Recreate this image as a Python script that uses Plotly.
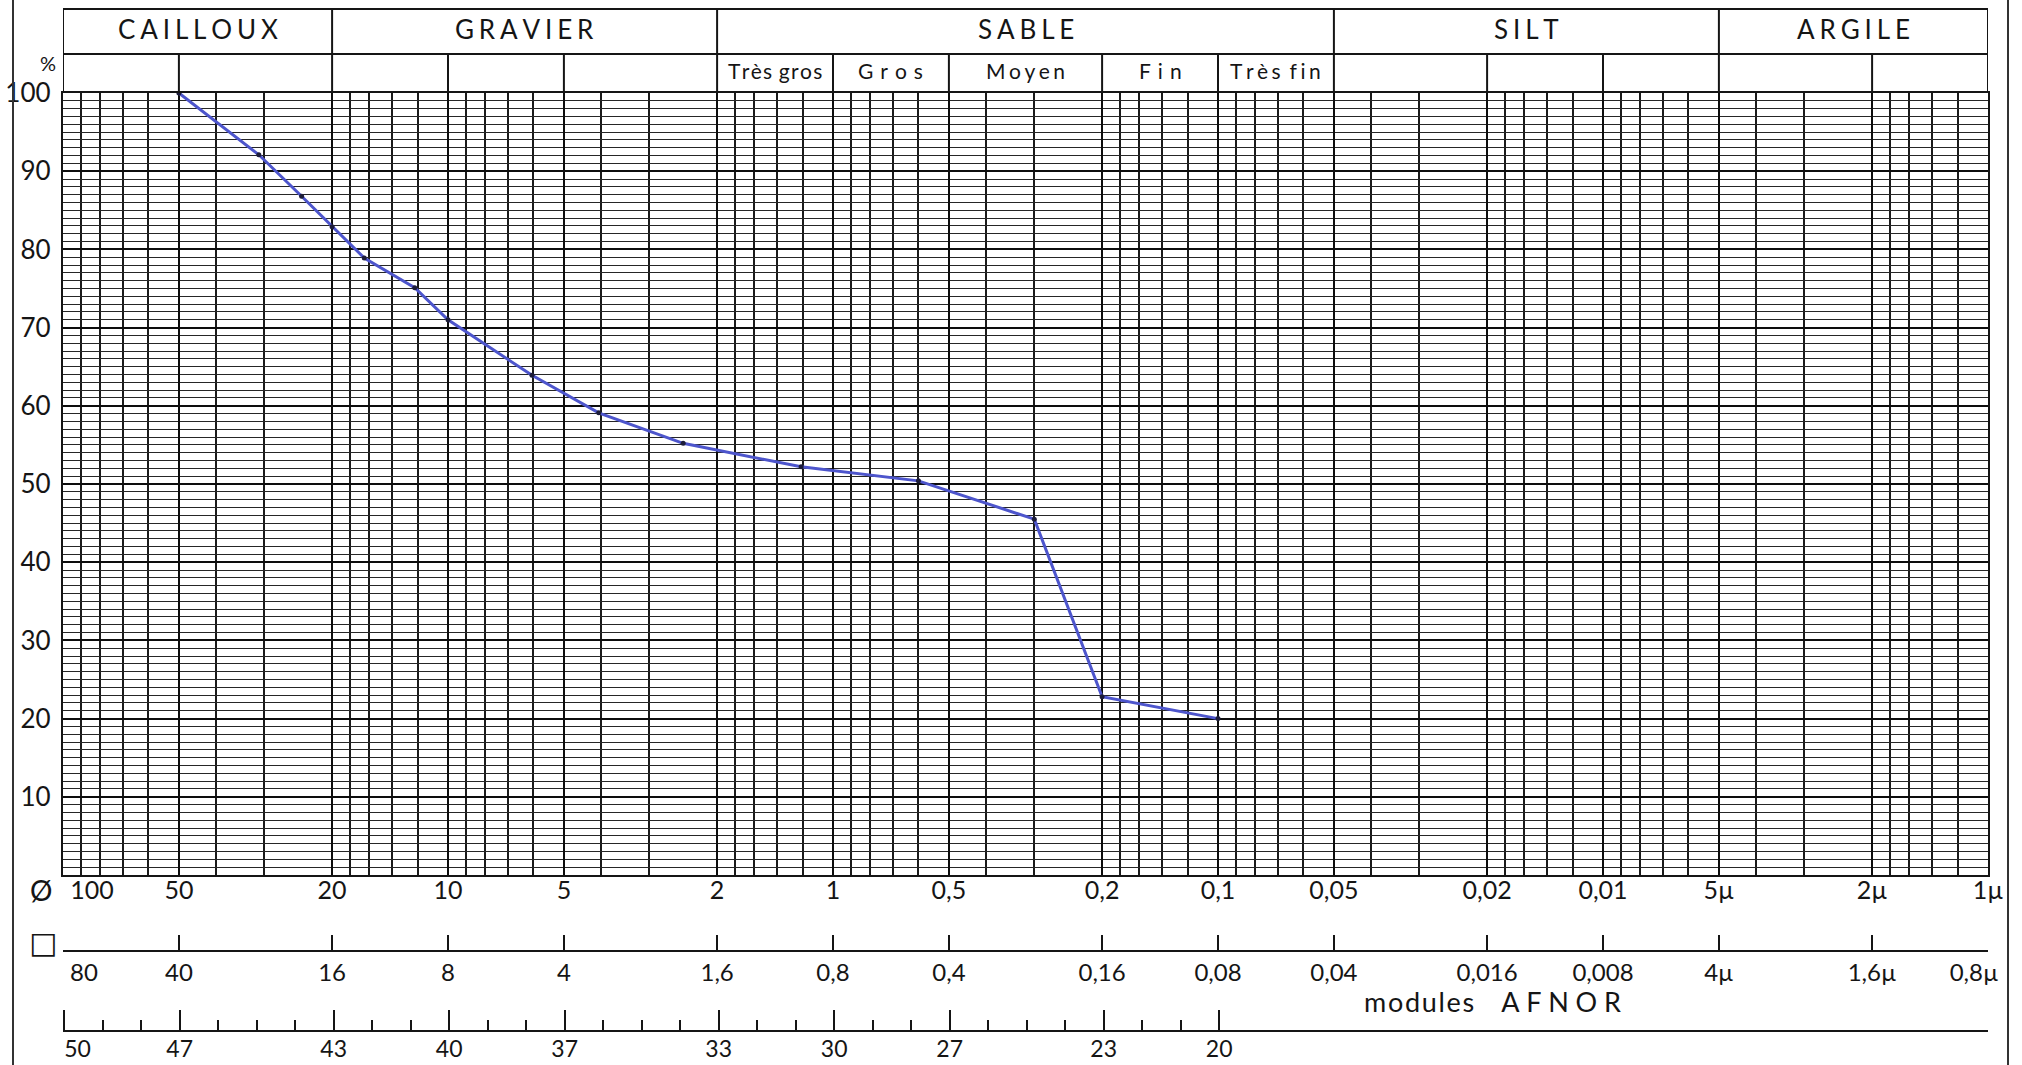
import math
import plotly.graph_objects as go

# ---------------- data ----------------
# grading curve (diameter in mm, cumulative % passing)
diameter_mm = [50, 31, 24, 20, 16.5, 12.2, 10, 6.05, 4.06, 2.45, 1.21, 0.6, 0.3, 0.2, 0.1]
passing_pct = [100, 92.1, 86.8, 82.9, 78.9, 75.1, 71.0, 63.9, 59.1, 55.2, 52.2, 50.4, 45.5, 22.8, 20.0]

# round-hole scale (Ø)
round_ticks = [100, 50, 20, 10, 5, 2, 1, 0.5, 0.2, 0.1, 0.05, 0.02, 0.01, 0.005, 0.002, 0.001]
round_labels = ["100", "50", "20", "10", "5", "2", "1", "0,5", "0,2", "0,1",
                "0,05", "0,02", "0,01", "5µ", "2µ", "1µ"]
grid_mantissas = [1.2, 1.4, 1.6, 1.8, 3, 4, 6, 7, 8, 9]
decades = [0.001, 0.01, 0.1, 1, 10]

# square-mesh scale (□)
square_ticks = [80, 40, 16, 8, 4, 1.6, 0.8, 0.4, 0.16, 0.08, 0.04, 0.016, 0.008, 0.004, 0.0016, 0.0008]
square_labels = ["80", "40", "16", "8", "4", "1,6", "0,8", "0,4", "0,16", "0,08",
                 "0,04", "0,016", "0,008", "4µ", "1,6µ", "0,8µ"]
square_ratio = 0.8

# AFNOR modules
afnor_major = [50, 47, 43, 40, 37, 33, 30, 27, 23, 20]
afnor_minor = list(range(20, 51))

# percentage axis
pct_ticks = [10, 20, 30, 40, 50, 60, 70, 80, 90, 100]

# header classes
classes = [("CAILLOUX", 100, 20), ("GRAVIER", 20, 2), ("SABLE", 2, 0.05),
           ("SILT", 0.05, 0.005), ("ARGILE", 0.005, 0.001)]
sand_classes = [("Très gros", 2, 1), ("Gros", 1, 0.5), ("Moyen", 0.5, 0.2),
                ("Fin", 0.2, 0.1), ("Très fin", 0.1, 0.05)]
row2_dividers = [50, 10, 5, 1, 0.5, 0.2, 0.1, 0.02, 0.01, 0.002]

X_MAX, X_MIN = 100, 0.001

# ---------------- layout geometry ----------------
W, H = 2022, 1065
M_T, M_B, M_L, M_R = 93, 10, 63, 34
PH = H - M_T - M_B
EPS = 1e-6


def py(ypix):
    return (H - M_B - ypix) / PH


def px(xpix):
    return (xpix - M_L) / (W - M_L - M_R)


def spaced(text, sep):
    return "".join(ch if ch == " " else ch + sep for ch in text).rstrip(sep)


def pad_ends(labels, left, right):
    out = list(labels)
    out[0] = "\u2007" * left + out[0]
    out[-1] = out[-1] + "\u2007" * right
    return out


FONT = "Lato, 'Noto Sans', sans-serif"
INK = "#151515"


def afnor_module(d_round_mm):
    return 10 * math.log10(d_round_mm * square_ratio * 1000) + 1


minor_x = [b * m for b in decades for m in grid_mantissas]

fig = go.Figure()
fig.add_trace(go.Scatter(
    x=diameter_mm, y=passing_pct, mode="lines+markers",
    line=dict(color="#4d55cc", width=3),
    marker=dict(color="#1c1c3a", size=5),
    showlegend=False, hoverinfo="x+y"))
# carriers for the secondary scales
fig.add_trace(go.Scatter(x=[None], y=[None], xaxis="x2", yaxis="y", showlegend=False, hoverinfo="skip"))
fig.add_trace(go.Scatter(x=[None], y=[None], xaxis="x3", yaxis="y", showlegend=False, hoverinfo="skip"))

shapes = []
y_top = py(9)
y_mid = py(54)
LW = dict(color=INK, width=2)
shapes.append(dict(type="line", xref="x", yref="paper", x0=X_MAX, x1=X_MIN, y0=y_top, y1=y_top, line=LW))
shapes.append(dict(type="line", xref="x", yref="paper", x0=X_MAX, x1=X_MIN, y0=y_mid, y1=y_mid, line=LW))
for name, a, b in classes:
    shapes.append(dict(type="line", xref="x", yref="paper", x0=a, x1=a, y0=1, y1=y_top, line=LW))
shapes.append(dict(type="line", xref="x", yref="paper", x0=X_MIN, x1=X_MIN, y0=1, y1=y_top, line=LW))
for d in row2_dividers:
    shapes.append(dict(type="line", xref="x", yref="paper", x0=d, x1=d, y0=1, y1=y_mid, line=LW))
# page borders of the form
shapes.append(dict(type="line", xref="paper", yref="paper", x0=px(13), x1=px(13), y0=py(1065), y1=py(0),
                   line=dict(color="#333", width=2)))
shapes.append(dict(type="line", xref="paper", yref="paper", x0=px(2008), x1=px(2008), y0=py(1065), y1=py(0),
                   line=dict(color="#333", width=2)))

annotations = []
for name, a, b in classes:
    annotations.append(dict(x=(math.log10(a) + math.log10(b)) / 2, y=py(29), xref="x", yref="paper",
                            xanchor="center", yanchor="middle",
                            text=spaced(name, "\u2009\u200a"), showarrow=False,
                            font=dict(family=FONT, size=26, color=INK)))
sand_sep = {"Très gros": "\u200a", "Gros": "\u2006\u2006", "Moyen": "\u2006",
            "Fin": "\u2006\u2006", "Très fin": "\u2006"}
for name, a, b in sand_classes:
    annotations.append(dict(x=(math.log10(a) + math.log10(b)) / 2, y=py(71), xref="x", yref="paper",
                            xanchor="center", yanchor="middle",
                            text=spaced(name, sand_sep[name]), showarrow=False,
                            font=dict(family=FONT, size=21, color=INK)))
annotations += [
    dict(x=px(48), y=py(63), xref="paper", yref="paper", xanchor="center", yanchor="middle",
         text="%", showarrow=False, font=dict(family=FONT, size=20, color=INK)),
    dict(x=px(41), y=py(890), xref="paper", yref="paper", xanchor="center", yanchor="middle",
         text="Ø", showarrow=False, font=dict(family=FONT, size=28, color=INK)),
    dict(x=px(43), y=py(942), xref="paper", yref="paper", xanchor="center", yanchor="middle",
         text="□", showarrow=False, font=dict(family="DejaVu Sans", size=30, color=INK)),
    dict(x=px(1492), y=py(1001), xref="paper", yref="paper", xanchor="center", yanchor="middle",
         text=spaced("modules", "\u200a") + "\u2002\u2002" + spaced("AFNOR", "\u2009\u2009"), showarrow=False,
         font=dict(family=FONT, size=27, color=INK)),
]

fig.update_layout(
    width=W, height=H,
    margin=dict(l=M_L, r=M_R, t=M_T, b=M_B, pad=0, autoexpand=False),
    paper_bgcolor="white", plot_bgcolor="white",
    showlegend=False,
    font=dict(family=FONT, color=INK),
    shapes=shapes, annotations=annotations,
    xaxis=dict(
        type="log", range=[math.log10(X_MAX) + EPS, math.log10(X_MIN) - EPS],
        tickmode="array", tickvals=round_ticks, ticktext=pad_ends(round_labels, 4, 0),
        ticks="", ticklen=0, tickfont=dict(family=FONT, size=25, color=INK),
        showgrid=True, gridcolor="#0d0d0d", gridwidth=2.4,
        minor=dict(tickmode="array", tickvals=minor_x, showgrid=True, gridcolor="#1a1a1a",
                   gridwidth=1.5, ticks=""),
        showline=True, linecolor=INK, linewidth=2.4, mirror=True,
        zeroline=False, anchor="y", ticklabelstandoff=-8, ticklabeloverflow="allow",
    ),
    xaxis2=dict(
        type="log", overlaying="x", anchor="free", position=py(951), side="bottom",
        range=[math.log10(X_MAX * square_ratio) + EPS, math.log10(X_MIN * square_ratio) - EPS],
        tickmode="array", tickvals=square_ticks, ticktext=pad_ends(square_labels, 3, 2),
        ticks="inside", ticklen=15, tickwidth=2, tickcolor=INK,
        tickfont=dict(family=FONT, size=24, color=INK),
        showgrid=False, showline=True, linecolor=INK, linewidth=2, zeroline=False,
        ticklabelstandoff=0, ticklabeloverflow="allow",
    ),
    xaxis3=dict(
        type="linear", overlaying="x", anchor="free", position=py(1031), side="bottom",
        range=[afnor_module(X_MAX) + EPS, afnor_module(X_MIN) - EPS],
        tickmode="array", tickvals=afnor_major, ticktext=pad_ends([str(m) for m in afnor_major], 2, 0),
        ticks="inside", ticklen=20, tickwidth=2, tickcolor=INK,
        minor=dict(tickmode="array", tickvals=afnor_minor, ticks="inside", ticklen=10,
                   tickwidth=1.5, tickcolor=INK, showgrid=False),
        tickfont=dict(family=FONT, size=23, color=INK),
        showgrid=False, showline=True, linecolor=INK, linewidth=2, zeroline=False,
        ticklabelstandoff=-3, ticklabeloverflow="allow",
    ),
    yaxis=dict(
        range=[0, 100], domain=[py(875), 1],
        tickmode="array", tickvals=pct_ticks, ticks="",
        tickfont=dict(family=FONT, size=26, color=INK),
        showgrid=True, gridcolor="#0d0d0d", gridwidth=2.4,
        minor=dict(tick0=0, dtick=1, showgrid=True, gridcolor="#262626", gridwidth=1, ticks=""),
        showline=True, linecolor=INK, linewidth=2.4, mirror=True, zeroline=False,
        ticklabelstandoff=5,
    ),
)

fig.write_html("out.html", config={"displayModeBar": False},
               post_script="document.body.style.margin='0px';document.body.style.overflow='hidden';")
